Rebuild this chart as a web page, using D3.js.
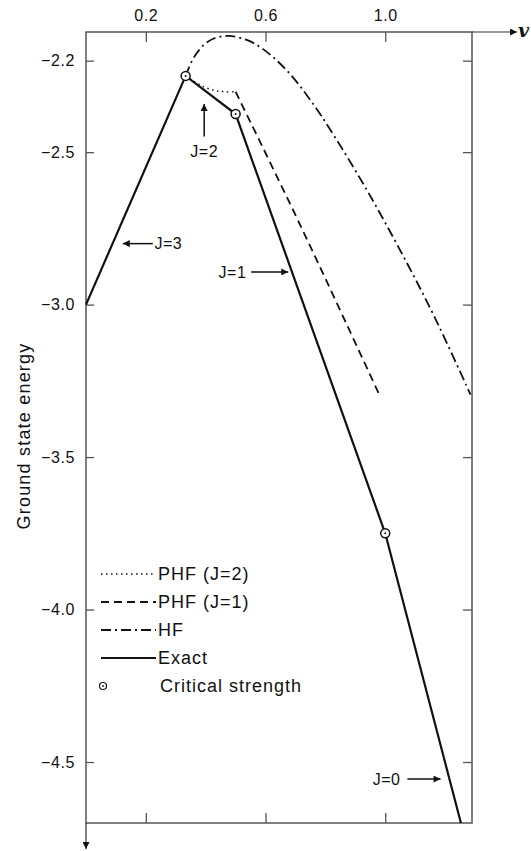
<!DOCTYPE html>
<html>
<head>
<meta charset="utf-8">
<script src="https://cdn.jsdelivr.net/npm/d3@7"></script>
<style>
  html, body { margin: 0; padding: 0; background: #fff; }
  svg text { font-family: "Liberation Sans", Arial, sans-serif; fill: #111; }
</style>
</head>
<body>
<svg id="chart" width="531" height="851"></svg>
<script>
// axis setup (v on top, energy on the left)
const xTicks = [0.2, 0.6, 1.0];
const yTicks = [-2.2, -2.5, -3.0, -3.5, -4.0, -4.5];
const xDomain = [0, 1.29];
const yDomain = [-2.106, -4.70];

// curves: [v, energy]
const exact = [[0, -3.0], [0.333, -2.25], [0.5, -2.375], [1.0, -3.75], [1.253, -4.70]];
const critical = [[0.333, -2.25], [0.5, -2.375], [1.0, -3.75]];
const phfJ2 = [[0.333, -2.25], [0.36, -2.267], [0.386, -2.282], [0.41, -2.292], [0.435, -2.299], [0.465, -2.302], [0.5, -2.302]];
const phfJ1 = [[0.5, -2.302], [0.716, -2.739], [0.978, -3.291]];
const hf = [[0.333, -2.25], [0.353, -2.203], [0.37, -2.176], [0.392, -2.150], [0.425, -2.128],
  [0.476, -2.119], [0.537, -2.132], [0.593, -2.163], [0.671, -2.232], [0.749, -2.328],
  [0.827, -2.443], [0.939, -2.625], [1.05, -2.822], [1.162, -3.035], [1.285, -3.295]];

// J annotations: label anchor, arrow tail, arrow head
const jLabels = ['J=3', 'J=2', 'J=1', 'J=0'];
const jLabelPos = [[0.229, -2.80], [0.395, -2.497], [0.443, -2.893], [0.958, -4.556]];
const jArrowFrom = [[0.223, -2.80], [0.395, -2.449], [0.552, -2.893], [1.074, -4.556]];
const jArrowTo = [[0.123, -2.80], [0.395, -2.342], [0.676, -2.893], [1.185, -4.556]];

const legendLabels = ['PHF (J=2)', 'PHF (J=1)', 'HF', 'Exact', 'Critical strength'];

const svg = d3.select('#chart');

const x = d3.scaleLinear().domain(xDomain).range([86, 472]);
const y = d3.scaleLinear().domain(yDomain).range([32, 823]);

const frameColor = '#555';

// arrow heads
const defs = svg.append('defs');
defs.append('marker')
  .attr('id', 'head')
  .attr('viewBox', '0 0 10 10')
  .attr('refX', 10)
  .attr('refY', 5)
  .attr('markerWidth', 10)
  .attr('markerHeight', 7)
  .attr('markerUnits', 'userSpaceOnUse')
  .attr('orient', 'auto')
  .append('path')
  .attr('d', 'M0,0 L10,5 L0,10 Z')
  .attr('fill', '#111');

// frame + the two axis arrows
const x0 = x(xDomain[0]), x1 = x(xDomain[1]);
const y0 = y(yDomain[0]), y1 = y(yDomain[1]);
svg.append('rect')
  .attr('x', x0).attr('y', y0)
  .attr('width', x1 - x0).attr('height', y1 - y0)
  .attr('fill', 'none')
  .attr('stroke', frameColor)
  .attr('stroke-width', 1.5);

svg.append('line')
  .attr('x1', x1).attr('y1', y0).attr('x2', x1 + 45).attr('y2', y0)
  .attr('stroke', '#333').attr('stroke-width', 1.2)
  .attr('marker-end', 'url(#head)');
svg.append('text')
  .attr('x', x1 + 46).attr('y', y0 + 5)
  .style('font-family', '"DejaVu Serif", serif')
  .style('font-style', 'italic')
  .style('font-weight', 'bold')
  .style('font-size', '19px')
  .text('v');

svg.append('line')
  .attr('x1', x0).attr('y1', y1).attr('x2', x0).attr('y2', y1 + 26)
  .attr('stroke', '#333').attr('stroke-width', 1.2)
  .attr('marker-end', 'url(#head)');

// axes: ticks point inward on all four sides
const styleAxis = (g) => {
  g.select('.domain').remove();
  g.selectAll('.tick line').attr('stroke', frameColor).attr('stroke-width', 1.3);
  g.selectAll('.tick text')
    .style('font-family', '"Liberation Sans", Arial, sans-serif')
    .style('font-size', '16px')
    .style('letter-spacing', '0.6px')
    .attr('fill', '#111');
};

svg.append('g')
  .attr('transform', `translate(0,${y0})`)
  .call(d3.axisTop(x).tickValues(xTicks).tickSize(-10).tickPadding(11).tickFormat(d3.format('.1f')))
  .call(styleAxis);

svg.append('g')
  .attr('transform', `translate(0,${y1})`)
  .call(d3.axisBottom(x).tickValues(xTicks).tickSize(-10).tickFormat(''))
  .call(styleAxis);

svg.append('g')
  .attr('transform', `translate(${x0},0)`)
  .call(d3.axisLeft(y).tickValues(yTicks).tickSize(-8).tickPadding(11).tickFormat(d3.format('.1f')))
  .call(styleAxis);

svg.append('g')
  .attr('transform', `translate(${x1},0)`)
  .call(d3.axisRight(y).tickValues(yTicks).tickSize(-9).tickFormat(''))
  .call(styleAxis);

svg.append('text')
  .attr('transform', 'translate(30,436) rotate(-90)')
  .attr('text-anchor', 'middle')
  .style('font-size', '18px')
  .style('letter-spacing', '1.2px')
  .text('Ground state energy');

// curves
const line = d3.line().x(d => x(d[0])).y(d => y(d[1]));
const smooth = d3.line().x(d => x(d[0])).y(d => y(d[1])).curve(d3.curveCatmullRom.alpha(0.5));

const styles = {
  phf2: { dash: '1.5,3.5', width: 1.4 },
  phf1: { dash: '8,5', width: 1.8 },
  hf: { dash: '10,4,2,4', width: 1.8 },
  exact: { dash: null, width: 2.2 }
};

const plot = svg.append('g');
plot.append('path').datum(hf).attr('d', smooth)
  .attr('fill', 'none').attr('stroke', '#111')
  .attr('stroke-width', styles.hf.width).attr('stroke-dasharray', styles.hf.dash);
plot.append('path').datum(phfJ1).attr('d', smooth)
  .attr('fill', 'none').attr('stroke', '#111')
  .attr('stroke-width', styles.phf1.width).attr('stroke-dasharray', styles.phf1.dash);
plot.append('path').datum(phfJ2).attr('d', smooth)
  .attr('fill', 'none').attr('stroke', '#111')
  .attr('stroke-width', styles.phf2.width).attr('stroke-dasharray', styles.phf2.dash);
plot.append('path').datum(exact).attr('d', line)
  .attr('fill', 'none').attr('stroke', '#111')
  .attr('stroke-width', styles.exact.width);

// critical strength markers
const marker = (g) => {
  g.append('circle').attr('r', 4.5).attr('fill', '#fff').attr('stroke', '#111').attr('stroke-width', 1.5);
  g.append('circle').attr('r', 1).attr('fill', '#111');
};
plot.selectAll('g.crit')
  .data(critical)
  .join('g')
  .attr('class', 'crit')
  .attr('transform', d => `translate(${x(d[0])},${y(d[1])})`)
  .each(function () { marker(d3.select(this)); });

// J labels with arrows
jLabels.forEach((lab, i) => {
  plot.append('line')
    .attr('x1', x(jArrowFrom[i][0])).attr('y1', y(jArrowFrom[i][1]))
    .attr('x2', x(jArrowTo[i][0])).attr('y2', y(jArrowTo[i][1]))
    .attr('stroke', '#111').attr('stroke-width', 1.5)
    .attr('marker-end', 'url(#head)');
  plot.append('text')
    .attr('x', x(jLabelPos[i][0])).attr('y', y(jLabelPos[i][1]))
    .attr('dy', '0.35em')
    .attr('text-anchor', lab === 'J=2' ? 'middle' : 'start')
    .style('font-size', '16px')
    .style('letter-spacing', '0.5px')
    .text(lab);
});

// legend
const legend = svg.append('g').attr('transform', 'translate(101,574)');
const rowGap = 28;
const legendStyles = [styles.phf2, styles.phf1, styles.hf, styles.exact];
legendLabels.forEach((lab, i) => {
  const row = legend.append('g').attr('transform', `translate(0,${i * rowGap})`);
  if (i < 4) {
    row.append('line')
      .attr('x1', 0).attr('x2', 55).attr('y1', 0).attr('y2', 0)
      .attr('stroke', '#111')
      .attr('stroke-width', legendStyles[i].width)
      .attr('stroke-dasharray', legendStyles[i].dash);
  } else {
    const m = row.append('g').attr('transform', 'translate(2,0)');
    m.append('circle').attr('r', 3.5).attr('fill', '#fff').attr('stroke', '#111').attr('stroke-width', 1.2);
    m.append('circle').attr('r', 0.9).attr('fill', '#111');
  }
  row.append('text')
    .attr('x', i < 4 ? 57 : 59)
    .attr('dy', '0.35em')
    .style('font-size', '18px')
    .style('letter-spacing', '1px')
    .text(lab);
});
</script>
</body>
</html>
